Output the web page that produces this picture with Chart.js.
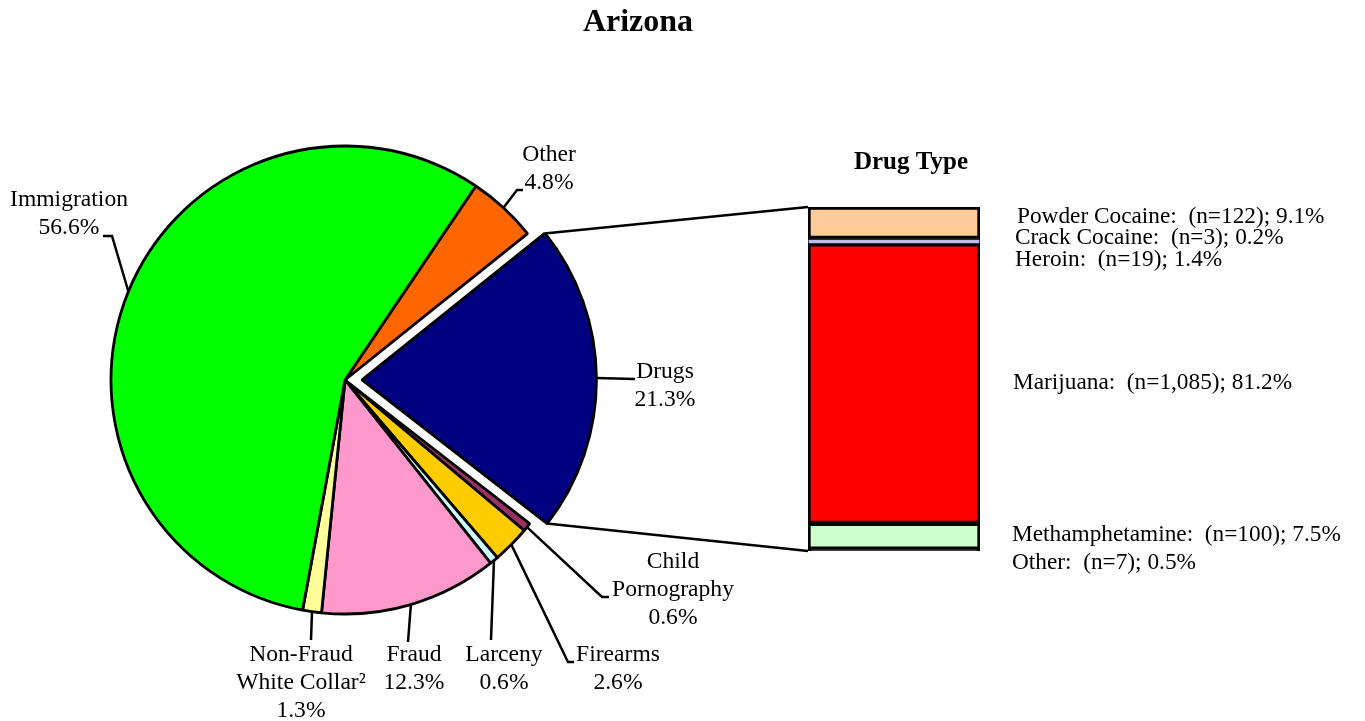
<!DOCTYPE html>
<html><head><meta charset="utf-8">
<script src="https://cdn.jsdelivr.net/npm/chart.js@4/dist/chart.umd.min.js"></script>
<style>
html,body{margin:0;padding:0;background:#fff;width:1365px;height:721px;overflow:hidden}
canvas{position:absolute;left:0;top:0}
#bar{pointer-events:none}
</style></head><body>
<canvas id="pie" width="1365" height="721"></canvas>
<canvas id="bar" width="1365" height="721"></canvas>
<script>
// ---- data ----
const chartTitle = 'Arizona';
const offenseCategories = ['Other','Drugs','Child Pornography','Firearms','Larceny','Fraud','Non-Fraud White Collar','Immigration'];
const offensePercents = [4.8, 21.3, 0.6, 2.6, 0.6, 12.3, 1.3, 56.6];
const offenseLabelLines = [
  ['Other','4.8%'], ['Drugs','21.3%'], ['Child','Pornography','0.6%'], ['Firearms','2.6%'],
  ['Larceny','0.6%'], ['Fraud','12.3%'], ['Non-Fraud','White Collar\u00B2','1.3%'], ['Immigration','56.6%']
];
const drugTitle = 'Drug Type';
const drugTypes = ['Powder Cocaine','Crack Cocaine','Heroin','Marijuana','Methamphetamine','Other'];
const drugCounts = [122, 3, 19, 1085, 100, 7];
const drugPercents = [9.1, 0.2, 1.4, 81.2, 7.5, 0.5];

// ---- styles / layout ----
const offenseColors = ['#FF6600','#000080','#993366','#FFCC00','#CCFFFF','#FF99CC','#FFFF99','#00FF00'];
const offenseOffsets = [0, 68, 0, 0, 0, 0, 0, 0];
const drugColors = ['#FFCC99','#000000','#BBBBEE','#FF0000','#CCFFCC','#000000'];
const drugBorderWidths = [3, 1, 1, 3, 3, 3];
const FONT = '"Liberation Serif","Times New Roman",serif';
const labelFont = '23.6px ' + FONT;
const barLabelFont = '23.3px ' + FONT;
const lineGap = 28;
const pieLabelPos = [[549,155],[665,372],[673,562],[618,655],[504,655],[414,655],[301,655],[69,200]];
const pieLeaders = [
  [[517,190],[523,190]],
  [[635,379]],
  [[602,597],[609,597]],
  [[568,662],[574,662]],
  [[491,640]],
  [[408,642]],
  [[311,640]],
  [[112,236],[103,236]]
];
const drugLabelX = [1017,1015,1015,1013,1012,1012];
const drugLabelY = [217,238,260,383,535,563];

// ---- pie ----
const pieLabelPlugin = {
  id: 'pieLabels',
  afterDraw(chart) {
    const ctx = chart.ctx;
    const meta = chart.getDatasetMeta(0);
    ctx.save();
    ctx.fillStyle = '#000';
    ctx.textAlign = 'center';
    ctx.textBaseline = 'middle';
    ctx.font = 'bold 32px ' + FONT;
    ctx.fillText(chartTitle, 638, 23);
    ctx.font = labelFont;
    ctx.strokeStyle = '#000';
    ctx.lineWidth = 2.5;
    meta.data.forEach((arc, i) => {
      const p = arc.getProps(['x','y','startAngle','endAngle','outerRadius'], true);
      const mid = (p.startAngle + p.endAngle) / 2;
      const off = (arc.options.offset || 0) / 4;
      const sx = p.x + Math.cos(mid) * (p.outerRadius + off);
      const sy = p.y + Math.sin(mid) * (p.outerRadius + off);
      ctx.beginPath();
      ctx.moveTo(sx, sy);
      pieLeaders[i].forEach(pt => ctx.lineTo(pt[0], pt[1]));
      ctx.stroke();
      const [lx, ly] = pieLabelPos[i];
      offenseLabelLines[i].forEach((t, k) => ctx.fillText(t, lx, ly + k * lineGap));
    });
    ctx.restore();
  }
};

const pieChart = new Chart(document.getElementById('pie'), {
  type: 'pie',
  data: {
    labels: offenseCategories,
    datasets: [{
      data: offensePercents,
      backgroundColor: offenseColors,
      borderColor: '#000',
      borderWidth: 2.8,
      offset: offenseOffsets
    }]
  },
  options: {
    responsive: false,
    animation: false,
    rotation: 34,
    radius: 234,
    layout: { padding: { left: 0, right: 675, top: 39, bottom: 0 } },
    plugins: { legend: { display: false }, tooltip: { enabled: false }, title: { display: false } }
  },
  plugins: [pieLabelPlugin]
});

// ---- drug bar ----
const drugTotal = drugPercents.reduce((a, b) => a + b, 0);
const barLabelPlugin = {
  id: 'barLabels',
  afterDraw(chart) {
    const ctx = chart.ctx;
    ctx.save();
    // connector lines from the exploded Drugs slice to the bar
    const arc = pieChart.getDatasetMeta(0).data[1];
    const p = arc.getProps(['x','y','startAngle','endAngle','outerRadius'], true);
    const mid = (p.startAngle + p.endAngle) / 2;
    const off = (arc.options.offset || 0) / 4;
    const cx = p.x + Math.cos(mid) * off, cy = p.y + Math.sin(mid) * off;
    const firstBar = chart.getDatasetMeta(0).data[0].getProps(['x','y','base','width'], true);
    const lastBar = chart.getDatasetMeta(drugTypes.length - 1).data[0].getProps(['x','y','base','width'], true);
    const left = firstBar.x - firstBar.width / 2;
    ctx.strokeStyle = '#000';
    ctx.lineWidth = 2.5;
    ctx.beginPath();
    ctx.moveTo(cx + Math.cos(p.startAngle) * p.outerRadius, cy + Math.sin(p.startAngle) * p.outerRadius);
    ctx.lineTo(left, Math.min(firstBar.y, firstBar.base));
    ctx.moveTo(cx + Math.cos(p.endAngle) * p.outerRadius, cy + Math.sin(p.endAngle) * p.outerRadius);
    ctx.lineTo(left, Math.max(lastBar.y, lastBar.base));
    ctx.stroke();
    // title and labels
    ctx.fillStyle = '#000';
    ctx.textAlign = 'center';
    ctx.textBaseline = 'middle';
    ctx.font = 'bold 25px ' + FONT;
    ctx.fillText(drugTitle, 911, 163);
    ctx.font = barLabelFont;
    ctx.textAlign = 'left';
    drugTypes.forEach((t, i) => {
      const txt = t + ':  (n=' + drugCounts[i].toLocaleString('en-US') + '); ' + drugPercents[i].toFixed(1) + '%';
      ctx.fillText(txt, drugLabelX[i], drugLabelY[i]);
    });
    ctx.restore();
  }
};

new Chart(document.getElementById('bar'), {
  type: 'bar',
  data: {
    labels: ['Drugs'],
    datasets: drugTypes.map((t, i) => ({
      label: t,
      data: [drugPercents[i]],
      backgroundColor: drugColors[i],
      borderColor: '#000',
      borderWidth: drugBorderWidths[i],
      borderSkipped: false,
      barPercentage: 1,
      categoryPercentage: 1
    }))
  },
  options: {
    responsive: false,
    animation: false,
    layout: { padding: { left: 808, right: 385, top: 207, bottom: 170 } },
    scales: {
      x: { display: false, stacked: true },
      y: { display: false, stacked: true, reverse: true, min: 0, max: drugTotal }
    },
    plugins: { legend: { display: false }, tooltip: { enabled: false }, title: { display: false } }
  },
  plugins: [barLabelPlugin]
});
</script>
</body></html>
